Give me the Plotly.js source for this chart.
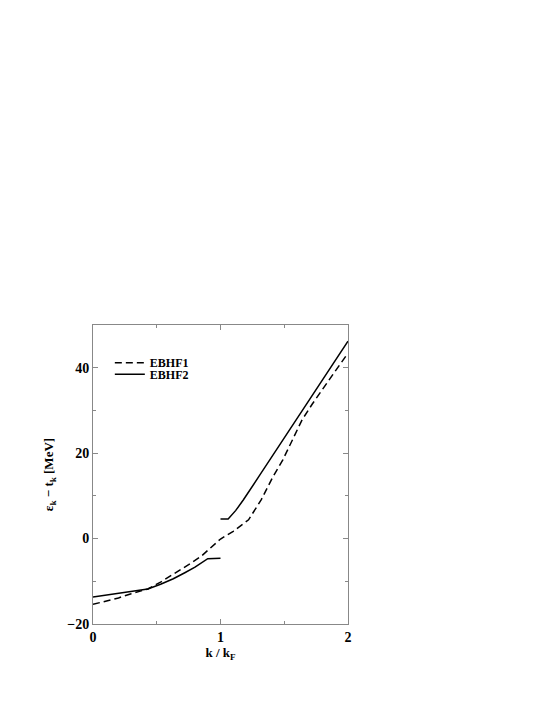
<!DOCTYPE html>
<html>
<head>
<meta charset="utf-8">
<script src="https://cdn.plot.ly/plotly-3.0.1.min.js"></script>
<style>
  html, body { margin: 0; padding: 0; background: #fff; }
  #plot { width: 545px; height: 705px; }
</style>
</head>
<body>
<div id="plot"></div>
<script>
// EBHF1 (dashed)
const k_ebhf1 = [0, 0.1, 0.2, 0.3, 0.43, 0.53, 0.63, 0.75, 0.85, 0.93, 1.0, 1.1, 1.22, 1.32, 1.41, 1.49, 1.56, 1.64, 1.72, 1.8, 1.9, 2.0];
const e_ebhf1 = [-15.4, -14.7, -13.9, -12.9, -11.8, -10.2, -8.4, -6.1, -4.1, -2.0, -0.1, 1.7, 4.4, 9.1, 14.4, 18.5, 22.9, 27.8, 31.5, 35.0, 39.2, 43.4];

// EBHF2 (solid), broken at k = kF
const k_ebhf2 = [0, 0.2, 0.43, 0.53, 0.63, 0.72, 0.8, 0.9, 1.0, null, 1.0, 1.06, 1.12, 1.18, 1.3, 1.4, 1.5, 1.6, 1.7, 1.8, 1.9, 2.0];
const e_ebhf2 = [-13.7, -12.8, -11.8, -10.7, -9.4, -8.0, -6.7, -4.7, -4.6, null, 4.6, 4.6, 6.6, 9.1, 14.5, 19.0, 23.5, 28.0, 32.5, 37.0, 41.6, 46.2];

const serif = 'Liberation Serif, Times New Roman, serif';
const axisColor = '#888888';

const traces = [
    {
        x: k_ebhf1, y: e_ebhf1,
        type: 'scatter', mode: 'lines',
        name: '<b>EBHF1</b>',
        legend: 'legend',
        line: { color: '#000', width: 1.5, dash: '7px,4px' }
    },
    {
        x: k_ebhf2, y: e_ebhf2,
        type: 'scatter', mode: 'lines',
        name: '<b>EBHF2</b>',
        legend: 'legend2',
        connectgaps: false,
        line: { color: '#000', width: 1.5 }
    }
];

// one legend per entry so the rows can sit as close as in the original
const legendBase = {
    xanchor: 'left', yanchor: 'middle',
    bgcolor: 'rgba(0,0,0,0)',
    font: { family: serif, size: 12, color: '#000' },
    itemwidth: 30
};

const layout = {
    width: 545,
    height: 705,
    paper_bgcolor: '#fff',
    plot_bgcolor: '#fff',
    margin: { l: 92.5, r: 196.5, t: 325, b: 81 },
    showlegend: true,
    legend: Object.assign({}, legendBase, { x: 0.066, y: 0.874 }),
    legend2: Object.assign({}, legendBase, { x: 0.066, y: 0.835 }),
    font: { family: serif, color: '#000' },
    xaxis: {
        range: [0, 2],
        dtick: 1,
        tick0: 0,
        ticks: 'inside',
        ticklen: 5,
        tickcolor: axisColor,
        showline: true,
        linecolor: axisColor,
        linewidth: 1,
        mirror: 'ticks',
        showgrid: false,
        zeroline: false,
        tickfont: { family: serif, size: 14, color: '#000', weight: 'bold' },
        minor: { dtick: 0.5, ticks: 'inside', ticklen: 3, tickcolor: axisColor, showgrid: false },
        title: { text: '<b>k / k<sub>F</sub></b>', font: { family: serif, size: 13, color: '#000' }, standoff: 1 }
    },
    yaxis: {
        range: [-20, 50],
        dtick: 20,
        tick0: 0,
        ticks: 'inside',
        ticklen: 5,
        tickcolor: axisColor,
        showline: true,
        linecolor: axisColor,
        linewidth: 1,
        mirror: 'ticks',
        showgrid: false,
        zeroline: false,
        tickfont: { family: serif, size: 14, color: '#000', weight: 'bold' },
        minor: { dtick: 10, ticks: 'inside', ticklen: 3, tickcolor: axisColor, showgrid: false },
        title: { text: '<b>ε<sub>k</sub> − t<sub>k</sub> [MeV]</b>', font: { family: serif, size: 13, color: '#000' }, standoff: 10 }
    }
};

Plotly.newPlot('plot', traces, layout, { displayModeBar: false, staticPlot: true });
</script>
</body>
</html>
